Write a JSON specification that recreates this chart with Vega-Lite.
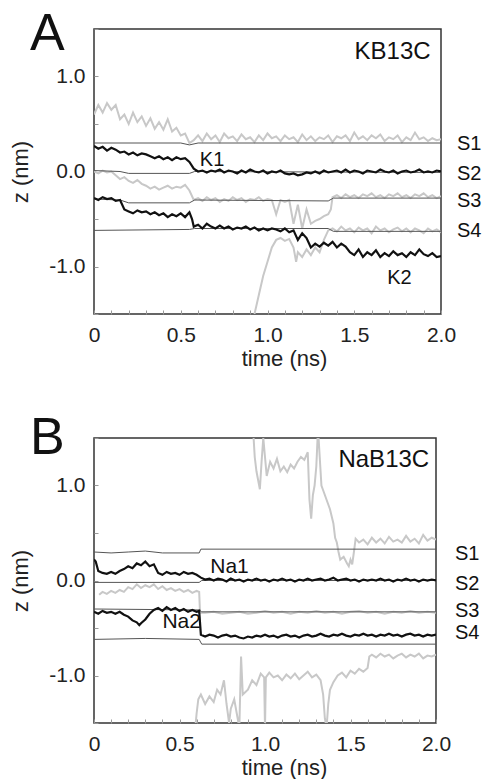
{
  "$schema": "https://vega.github.io/schema/vega-lite/v6.json",
  "padding": {"left": 9, "top": 7, "right": 5, "bottom": 0},
  "spacing": 41,
  "config": {
    "font": "Liberation Sans",
    "view": {"stroke": "#333", "strokeWidth": 1.5},
    "axis": {"labelFont": "Liberation Sans", "titleFont": "Liberation Sans", "labelFontSize": 21, "titleFontSize": 22, "titleFontWeight": "normal", "labelColor": "#222", "titleColor": "#222", "tickColor": "#999", "tickSize": -4, "domain": false, "grid": false, "labelOverlap": false, "labelFlush": false, "labelBound": false},
    "title": {"font": "Liberation Sans", "fontSize": 52, "fontWeight": "normal", "color": "#111", "anchor": "start", "frame": "group", "baseline": "alphabetic"}
  },
  "datasets": {
    "aK1": [{"t":0,"z":0.27},{"t":0.025,"z":0.24},{"t":0.05,"z":0.26},{"t":0.075,"z":0.22},{"t":0.1,"z":0.25},{"t":0.125,"z":0.23},{"t":0.15,"z":0.2},{"t":0.175,"z":0.21},{"t":0.2,"z":0.18},{"t":0.225,"z":0.2},{"t":0.25,"z":0.17},{"t":0.275,"z":0.19},{"t":0.3,"z":0.18},{"t":0.325,"z":0.16},{"t":0.35,"z":0.14},{"t":0.375,"z":0.16},{"t":0.4,"z":0.13},{"t":0.425,"z":0.15},{"t":0.45,"z":0.12},{"t":0.475,"z":0.15},{"t":0.5,"z":0.13},{"t":0.525,"z":0.14},{"t":0.55,"z":0.1},{"t":0.575,"z":0.03},{"t":0.6,"z":0.0},{"t":0.625,"z":0.01},{"t":0.65,"z":-0.01},{"t":0.675,"z":0.01},{"t":0.7,"z":0.0},{"t":0.725,"z":0.02},{"t":0.75,"z":-0.01},{"t":0.775,"z":0.01},{"t":0.8,"z":0.0},{"t":0.825,"z":-0.02},{"t":0.85,"z":0.01},{"t":0.875,"z":-0.01},{"t":0.9,"z":0.02},{"t":0.925,"z":0.0},{"t":0.95,"z":-0.01},{"t":0.975,"z":0.01},{"t":1.0,"z":-0.02},{"t":1.025,"z":0.0},{"t":1.05,"z":-0.01},{"t":1.075,"z":0.01},{"t":1.1,"z":-0.02},{"t":1.125,"z":-0.03},{"t":1.15,"z":-0.02},{"t":1.175,"z":-0.04},{"t":1.2,"z":-0.03},{"t":1.225,"z":-0.01},{"t":1.25,"z":-0.02},{"t":1.275,"z":0.0},{"t":1.3,"z":-0.02},{"t":1.325,"z":0.01},{"t":1.35,"z":-0.01},{"t":1.375,"z":0.0},{"t":1.4,"z":0.01},{"t":1.425,"z":-0.01},{"t":1.45,"z":0.02},{"t":1.475,"z":-0.01},{"t":1.5,"z":0.01},{"t":1.525,"z":0.0},{"t":1.55,"z":-0.02},{"t":1.575,"z":0.01},{"t":1.6,"z":0.0},{"t":1.625,"z":-0.01},{"t":1.65,"z":0.02},{"t":1.675,"z":0.0},{"t":1.7,"z":-0.01},{"t":1.725,"z":0.01},{"t":1.75,"z":-0.02},{"t":1.775,"z":0.0},{"t":1.8,"z":0.01},{"t":1.825,"z":-0.01},{"t":1.85,"z":0.0},{"t":1.875,"z":0.02},{"t":1.9,"z":-0.01},{"t":1.925,"z":0.0},{"t":1.95,"z":-0.01},{"t":1.975,"z":0.01},{"t":2.0,"z":0.0}],
    "aK2": [{"t":0,"z":-0.28},{"t":0.025,"z":-0.3},{"t":0.05,"z":-0.27},{"t":0.075,"z":-0.29},{"t":0.1,"z":-0.28},{"t":0.125,"z":-0.31},{"t":0.15,"z":-0.3},{"t":0.175,"z":-0.4},{"t":0.2,"z":-0.42},{"t":0.225,"z":-0.44},{"t":0.25,"z":-0.41},{"t":0.275,"z":-0.43},{"t":0.3,"z":-0.42},{"t":0.325,"z":-0.45},{"t":0.35,"z":-0.43},{"t":0.375,"z":-0.46},{"t":0.4,"z":-0.44},{"t":0.425,"z":-0.48},{"t":0.45,"z":-0.45},{"t":0.475,"z":-0.47},{"t":0.5,"z":-0.44},{"t":0.525,"z":-0.48},{"t":0.55,"z":-0.43},{"t":0.565,"z":-0.5},{"t":0.575,"z":-0.58},{"t":0.6,"z":-0.56},{"t":0.625,"z":-0.6},{"t":0.65,"z":-0.55},{"t":0.675,"z":-0.58},{"t":0.7,"z":-0.6},{"t":0.725,"z":-0.57},{"t":0.75,"z":-0.6},{"t":0.775,"z":-0.58},{"t":0.8,"z":-0.61},{"t":0.825,"z":-0.59},{"t":0.85,"z":-0.6},{"t":0.875,"z":-0.58},{"t":0.9,"z":-0.61},{"t":0.925,"z":-0.59},{"t":0.95,"z":-0.62},{"t":0.975,"z":-0.6},{"t":1.0,"z":-0.62},{"t":1.025,"z":-0.6},{"t":1.05,"z":-0.61},{"t":1.075,"z":-0.63},{"t":1.1,"z":-0.6},{"t":1.125,"z":-0.64},{"t":1.15,"z":-0.62},{"t":1.175,"z":-0.72},{"t":1.2,"z":-0.65},{"t":1.225,"z":-0.7},{"t":1.25,"z":-0.8},{"t":1.275,"z":-0.76},{"t":1.3,"z":-0.79},{"t":1.325,"z":-0.75},{"t":1.35,"z":-0.78},{"t":1.375,"z":-0.74},{"t":1.4,"z":-0.8},{"t":1.425,"z":-0.76},{"t":1.45,"z":-0.79},{"t":1.475,"z":-0.85},{"t":1.5,"z":-0.88},{"t":1.525,"z":-0.82},{"t":1.55,"z":-0.9},{"t":1.575,"z":-0.85},{"t":1.6,"z":-0.88},{"t":1.625,"z":-0.83},{"t":1.65,"z":-0.9},{"t":1.675,"z":-0.86},{"t":1.7,"z":-0.89},{"t":1.725,"z":-0.84},{"t":1.75,"z":-0.88},{"t":1.775,"z":-0.86},{"t":1.8,"z":-0.9},{"t":1.825,"z":-0.85},{"t":1.85,"z":-0.88},{"t":1.875,"z":-0.82},{"t":1.9,"z":-0.87},{"t":1.925,"z":-0.89},{"t":1.95,"z":-0.86},{"t":1.975,"z":-0.9},{"t":2.0,"z":-0.89}],
    "aG1": [{"t":0,"z":0.6},{"t":0.025,"z":0.7},{"t":0.05,"z":0.62},{"t":0.075,"z":0.72},{"t":0.1,"z":0.65},{"t":0.125,"z":0.7},{"t":0.15,"z":0.55},{"t":0.175,"z":0.6},{"t":0.2,"z":0.5},{"t":0.225,"z":0.62},{"t":0.25,"z":0.52},{"t":0.275,"z":0.58},{"t":0.3,"z":0.48},{"t":0.325,"z":0.56},{"t":0.35,"z":0.45},{"t":0.375,"z":0.52},{"t":0.4,"z":0.44},{"t":0.425,"z":0.55},{"t":0.45,"z":0.42},{"t":0.475,"z":0.46},{"t":0.5,"z":0.38},{"t":0.525,"z":0.4},{"t":0.55,"z":0.3},{"t":0.575,"z":0.33},{"t":0.6,"z":0.38},{"t":0.625,"z":0.32},{"t":0.65,"z":0.4},{"t":0.675,"z":0.34},{"t":0.7,"z":0.38},{"t":0.725,"z":0.31},{"t":0.75,"z":0.4},{"t":0.775,"z":0.35},{"t":0.8,"z":0.37},{"t":0.825,"z":0.32},{"t":0.85,"z":0.39},{"t":0.875,"z":0.34},{"t":0.9,"z":0.36},{"t":0.925,"z":0.31},{"t":0.95,"z":0.38},{"t":0.975,"z":0.33},{"t":1.0,"z":0.4},{"t":1.025,"z":0.35},{"t":1.05,"z":0.37},{"t":1.075,"z":0.32},{"t":1.1,"z":0.38},{"t":1.125,"z":0.34},{"t":1.15,"z":0.36},{"t":1.175,"z":0.31},{"t":1.2,"z":0.39},{"t":1.225,"z":0.33},{"t":1.25,"z":0.37},{"t":1.275,"z":0.32},{"t":1.3,"z":0.36},{"t":1.325,"z":0.34},{"t":1.35,"z":0.38},{"t":1.375,"z":0.31},{"t":1.4,"z":0.37},{"t":1.425,"z":0.35},{"t":1.45,"z":0.38},{"t":1.475,"z":0.32},{"t":1.5,"z":0.41},{"t":1.525,"z":0.34},{"t":1.55,"z":0.37},{"t":1.575,"z":0.33},{"t":1.6,"z":0.38},{"t":1.625,"z":0.35},{"t":1.65,"z":0.39},{"t":1.675,"z":0.32},{"t":1.7,"z":0.36},{"t":1.725,"z":0.34},{"t":1.75,"z":0.38},{"t":1.775,"z":0.31},{"t":1.8,"z":0.36},{"t":1.825,"z":0.33},{"t":1.85,"z":0.41},{"t":1.875,"z":0.34},{"t":1.9,"z":0.36},{"t":1.925,"z":0.32},{"t":1.95,"z":0.35},{"t":1.975,"z":0.33},{"t":2.0,"z":0.34}],
    "aG2": [{"t":0,"z":0.0},{"t":0.025,"z":-0.02},{"t":0.05,"z":0.01},{"t":0.075,"z":-0.01},{"t":0.1,"z":0.0},{"t":0.125,"z":-0.04},{"t":0.15,"z":-0.08},{"t":0.175,"z":-0.06},{"t":0.2,"z":-0.1},{"t":0.225,"z":-0.12},{"t":0.25,"z":-0.09},{"t":0.275,"z":-0.13},{"t":0.3,"z":-0.15},{"t":0.325,"z":-0.18},{"t":0.35,"z":-0.16},{"t":0.375,"z":-0.19},{"t":0.4,"z":-0.17},{"t":0.425,"z":-0.15},{"t":0.45,"z":-0.18},{"t":0.475,"z":-0.16},{"t":0.5,"z":-0.17},{"t":0.525,"z":-0.14},{"t":0.55,"z":-0.2},{"t":0.575,"z":-0.3},{"t":0.6,"z":-0.28},{"t":0.625,"z":-0.31},{"t":0.65,"z":-0.27},{"t":0.675,"z":-0.3},{"t":0.7,"z":-0.28},{"t":0.725,"z":-0.32},{"t":0.75,"z":-0.29},{"t":0.775,"z":-0.31},{"t":0.8,"z":-0.27},{"t":0.825,"z":-0.3},{"t":0.85,"z":-0.28},{"t":0.875,"z":-0.32},{"t":0.9,"z":-0.29},{"t":0.925,"z":-0.3},{"t":0.95,"z":-0.27},{"t":0.975,"z":-0.31},{"t":1.0,"z":-0.29},{"t":1.025,"z":-0.3},{"t":1.05,"z":-0.45},{"t":1.075,"z":-0.3},{"t":1.1,"z":-0.32},{"t":1.125,"z":-0.3},{"t":1.15,"z":-0.55},{"t":1.175,"z":-0.35},{"t":1.2,"z":-0.6},{"t":1.225,"z":-0.4},{"t":1.25,"z":-0.55},{"t":1.275,"z":-0.52},{"t":1.3,"z":-0.5},{"t":1.325,"z":-0.47},{"t":1.35,"z":-0.45},{"t":1.365,"z":-0.4},{"t":1.375,"z":-0.27},{"t":1.4,"z":-0.25},{"t":1.425,"z":-0.28},{"t":1.45,"z":-0.24},{"t":1.475,"z":-0.27},{"t":1.5,"z":-0.25},{"t":1.525,"z":-0.28},{"t":1.55,"z":-0.24},{"t":1.575,"z":-0.26},{"t":1.6,"z":-0.23},{"t":1.625,"z":-0.27},{"t":1.65,"z":-0.25},{"t":1.675,"z":-0.28},{"t":1.7,"z":-0.24},{"t":1.725,"z":-0.26},{"t":1.75,"z":-0.23},{"t":1.775,"z":-0.27},{"t":1.8,"z":-0.25},{"t":1.825,"z":-0.28},{"t":1.85,"z":-0.24},{"t":1.875,"z":-0.26},{"t":1.9,"z":-0.23},{"t":1.925,"z":-0.27},{"t":1.95,"z":-0.25},{"t":1.975,"z":-0.28},{"t":2.0,"z":-0.26}],
    "aG3": [{"t":0.91,"z":-1.6},{"t":0.925,"z":-1.5},{"t":0.95,"z":-1.3},{"t":0.975,"z":-1.1},{"t":1.0,"z":-0.95},{"t":1.025,"z":-0.8},{"t":1.05,"z":-0.72},{"t":1.075,"z":-0.7},{"t":1.1,"z":-0.73},{"t":1.125,"z":-0.71},{"t":1.15,"z":-0.8},{"t":1.165,"z":-0.95},{"t":1.175,"z":-0.85},{"t":1.2,"z":-0.9},{"t":1.225,"z":-0.82},{"t":1.25,"z":-0.88},{"t":1.275,"z":-0.8},{"t":1.3,"z":-0.85},{"t":1.325,"z":-0.72},{"t":1.35,"z":-0.62},{"t":1.375,"z":-0.6},{"t":1.4,"z":-0.63},{"t":1.425,"z":-0.58},{"t":1.45,"z":-0.62},{"t":1.475,"z":-0.6},{"t":1.5,"z":-0.64},{"t":1.525,"z":-0.59},{"t":1.55,"z":-0.62},{"t":1.575,"z":-0.6},{"t":1.6,"z":-0.65},{"t":1.625,"z":-0.58},{"t":1.65,"z":-0.62},{"t":1.675,"z":-0.6},{"t":1.7,"z":-0.64},{"t":1.725,"z":-0.61},{"t":1.75,"z":-0.59},{"t":1.775,"z":-0.63},{"t":1.8,"z":-0.6},{"t":1.825,"z":-0.64},{"t":1.85,"z":-0.6},{"t":1.875,"z":-0.62},{"t":1.9,"z":-0.65},{"t":1.925,"z":-0.6},{"t":1.95,"z":-0.63},{"t":1.975,"z":-0.61},{"t":2.0,"z":-0.64}],
    "aS1": [{"t":0,"z":0.3},{"t":0.5,"z":0.3},{"t":0.55,"z":0.28},{"t":0.6,"z":0.3},{"t":2.0,"z":0.3}],
    "aS2": [{"t":0,"z":0.01},{"t":0.15,"z":0.0},{"t":0.2,"z":-0.02},{"t":0.55,"z":-0.02},{"t":0.58,"z":0.0},{"t":2.0,"z":-0.01}],
    "aS3": [{"t":0,"z":-0.29},{"t":0.15,"z":-0.3},{"t":0.2,"z":-0.33},{"t":0.55,"z":-0.33},{"t":0.58,"z":-0.3},{"t":1.35,"z":-0.31},{"t":1.38,"z":-0.28},{"t":2.0,"z":-0.28}],
    "aS4": [{"t":0,"z":-0.62},{"t":0.55,"z":-0.61},{"t":0.58,"z":-0.6},{"t":1.35,"z":-0.6},{"t":1.38,"z":-0.63},{"t":2.0,"z":-0.63}],
    "aName": [{"t":1.94,"z":1.18,"label":"KB13C"}],
    "aIon": [{"t":0.61,"z":0.06,"label":"K1"},{"t":1.69,"z":-1.18,"label":"K2"}],
    "aSite": [{"t":2.0,"z":0.285,"label":"S1"},{"t":2.0,"z":-0.025,"label":"S2"},{"t":2.0,"z":-0.31,"label":"S3"},{"t":2.0,"z":-0.63,"label":"S4"}],
    "bNa1": [{"t":0,"z":0.22},{"t":0.01,"z":0.2},{"t":0.025,"z":0.1},{"t":0.05,"z":0.08},{"t":0.075,"z":0.07},{"t":0.1,"z":0.09},{"t":0.125,"z":0.07},{"t":0.15,"z":0.1},{"t":0.175,"z":0.12},{"t":0.2,"z":0.15},{"t":0.225,"z":0.13},{"t":0.25,"z":0.18},{"t":0.275,"z":0.16},{"t":0.3,"z":0.2},{"t":0.325,"z":0.15},{"t":0.35,"z":0.17},{"t":0.375,"z":0.08},{"t":0.4,"z":0.06},{"t":0.425,"z":0.09},{"t":0.45,"z":0.07},{"t":0.475,"z":0.08},{"t":0.5,"z":0.06},{"t":0.525,"z":0.09},{"t":0.55,"z":0.07},{"t":0.575,"z":0.08},{"t":0.6,"z":0.06},{"t":0.625,"z":0.03},{"t":0.65,"z":0.01},{"t":0.675,"z":0.02},{"t":0.7,"z":0.0},{"t":0.725,"z":0.02},{"t":0.75,"z":0.01},{"t":0.775,"z":-0.01},{"t":0.8,"z":0.02},{"t":0.825,"z":0.0},{"t":0.85,"z":0.01},{"t":0.875,"z":-0.01},{"t":0.9,"z":0.01},{"t":0.925,"z":0.0},{"t":0.95,"z":0.02},{"t":0.975,"z":0.0},{"t":1.0,"z":0.01},{"t":1.025,"z":-0.01},{"t":1.05,"z":0.01},{"t":1.075,"z":0.0},{"t":1.1,"z":0.02},{"t":1.125,"z":0.0},{"t":1.15,"z":0.01},{"t":1.175,"z":-0.01},{"t":1.2,"z":0.01},{"t":1.225,"z":0.0},{"t":1.25,"z":0.02},{"t":1.275,"z":0.0},{"t":1.3,"z":0.01},{"t":1.325,"z":0.02},{"t":1.35,"z":0.0},{"t":1.375,"z":0.01},{"t":1.4,"z":0.03},{"t":1.425,"z":0.0},{"t":1.45,"z":0.01},{"t":1.475,"z":0.02},{"t":1.5,"z":0.0},{"t":1.525,"z":0.01},{"t":1.55,"z":-0.01},{"t":1.575,"z":0.01},{"t":1.6,"z":0.0},{"t":1.625,"z":0.01},{"t":1.65,"z":0.0},{"t":1.675,"z":0.02},{"t":1.7,"z":0.0},{"t":1.725,"z":0.01},{"t":1.75,"z":-0.01},{"t":1.775,"z":0.01},{"t":1.8,"z":0.0},{"t":1.825,"z":0.02},{"t":1.85,"z":0.0},{"t":1.875,"z":0.01},{"t":1.9,"z":-0.01},{"t":1.925,"z":0.01},{"t":1.95,"z":0.0},{"t":1.975,"z":0.01},{"t":2.0,"z":0.0}],
    "bNa2": [{"t":0,"z":-0.33},{"t":0.025,"z":-0.35},{"t":0.05,"z":-0.32},{"t":0.075,"z":-0.34},{"t":0.1,"z":-0.33},{"t":0.125,"z":-0.35},{"t":0.15,"z":-0.33},{"t":0.175,"z":-0.36},{"t":0.2,"z":-0.38},{"t":0.225,"z":-0.42},{"t":0.25,"z":-0.44},{"t":0.265,"z":-0.47},{"t":0.275,"z":-0.45},{"t":0.3,"z":-0.41},{"t":0.325,"z":-0.35},{"t":0.35,"z":-0.31},{"t":0.375,"z":-0.29},{"t":0.4,"z":-0.32},{"t":0.425,"z":-0.28},{"t":0.45,"z":-0.31},{"t":0.475,"z":-0.29},{"t":0.5,"z":-0.32},{"t":0.525,"z":-0.3},{"t":0.55,"z":-0.33},{"t":0.575,"z":-0.31},{"t":0.6,"z":-0.33},{"t":0.615,"z":-0.32},{"t":0.625,"z":-0.57},{"t":0.65,"z":-0.59},{"t":0.675,"z":-0.57},{"t":0.7,"z":-0.58},{"t":0.725,"z":-0.6},{"t":0.75,"z":-0.58},{"t":0.775,"z":-0.57},{"t":0.8,"z":-0.59},{"t":0.825,"z":-0.58},{"t":0.85,"z":-0.6},{"t":0.875,"z":-0.61},{"t":0.9,"z":-0.59},{"t":0.925,"z":-0.6},{"t":0.95,"z":-0.58},{"t":0.975,"z":-0.59},{"t":1.0,"z":-0.57},{"t":1.025,"z":-0.59},{"t":1.05,"z":-0.58},{"t":1.075,"z":-0.6},{"t":1.1,"z":-0.58},{"t":1.125,"z":-0.57},{"t":1.15,"z":-0.59},{"t":1.175,"z":-0.58},{"t":1.2,"z":-0.6},{"t":1.225,"z":-0.58},{"t":1.25,"z":-0.57},{"t":1.275,"z":-0.59},{"t":1.3,"z":-0.58},{"t":1.325,"z":-0.56},{"t":1.35,"z":-0.58},{"t":1.375,"z":-0.59},{"t":1.4,"z":-0.57},{"t":1.425,"z":-0.58},{"t":1.45,"z":-0.56},{"t":1.475,"z":-0.58},{"t":1.5,"z":-0.59},{"t":1.525,"z":-0.57},{"t":1.55,"z":-0.58},{"t":1.575,"z":-0.56},{"t":1.6,"z":-0.58},{"t":1.625,"z":-0.57},{"t":1.65,"z":-0.59},{"t":1.675,"z":-0.57},{"t":1.7,"z":-0.58},{"t":1.725,"z":-0.56},{"t":1.75,"z":-0.58},{"t":1.775,"z":-0.57},{"t":1.8,"z":-0.59},{"t":1.825,"z":-0.57},{"t":1.85,"z":-0.56},{"t":1.875,"z":-0.58},{"t":1.9,"z":-0.57},{"t":1.925,"z":-0.59},{"t":1.95,"z":-0.57},{"t":1.975,"z":-0.58},{"t":2.0,"z":-0.57}],
    "bGa": [{"t":0.03,"z":-0.15},{"t":0.05,"z":-0.12},{"t":0.075,"z":-0.14},{"t":0.1,"z":-0.11},{"t":0.125,"z":-0.13},{"t":0.15,"z":-0.1},{"t":0.175,"z":-0.12},{"t":0.2,"z":-0.07},{"t":0.225,"z":-0.09},{"t":0.25,"z":-0.04},{"t":0.275,"z":-0.08},{"t":0.3,"z":-0.05},{"t":0.325,"z":-0.07},{"t":0.35,"z":-0.04},{"t":0.375,"z":-0.09},{"t":0.4,"z":-0.06},{"t":0.425,"z":-0.1},{"t":0.45,"z":-0.08},{"t":0.475,"z":-0.11},{"t":0.5,"z":-0.09},{"t":0.525,"z":-0.12},{"t":0.55,"z":-0.1},{"t":0.575,"z":-0.13},{"t":0.6,"z":-0.11},{"t":0.615,"z":-0.12},{"t":0.62,"z":-0.34},{"t":0.65,"z":-0.34},{"t":0.7,"z":-0.33},{"t":0.75,"z":-0.35},{"t":0.8,"z":-0.34},{"t":0.85,"z":-0.33},{"t":0.9,"z":-0.35},{"t":0.95,"z":-0.34},{"t":1.0,"z":-0.32},{"t":1.05,"z":-0.34},{"t":1.1,"z":-0.33},{"t":1.15,"z":-0.35},{"t":1.2,"z":-0.33},{"t":1.25,"z":-0.34},{"t":1.3,"z":-0.32},{"t":1.35,"z":-0.34},{"t":1.4,"z":-0.33},{"t":1.45,"z":-0.35},{"t":1.5,"z":-0.33},{"t":1.55,"z":-0.32},{"t":1.6,"z":-0.34},{"t":1.65,"z":-0.33},{"t":1.7,"z":-0.35},{"t":1.75,"z":-0.33},{"t":1.8,"z":-0.34},{"t":1.85,"z":-0.32},{"t":1.9,"z":-0.34},{"t":1.95,"z":-0.33},{"t":2.0,"z":-0.34}],
    "bGb": [{"t":0.93,"z":1.6},{"t":0.94,"z":1.3},{"t":0.95,"z":1.15},{"t":0.97,"z":0.96},{"t":0.98,"z":1.25},{"t":0.99,"z":1.5},{"t":1.0,"z":1.3},{"t":1.01,"z":1.1},{"t":1.03,"z":1.25},{"t":1.05,"z":1.18},{"t":1.07,"z":1.28},{"t":1.09,"z":1.15},{"t":1.11,"z":1.2},{"t":1.13,"z":1.14},{"t":1.15,"z":1.22},{"t":1.17,"z":1.18},{"t":1.19,"z":1.25},{"t":1.21,"z":1.3},{"t":1.23,"z":1.27},{"t":1.25,"z":1.35},{"t":1.26,"z":0.85},{"t":1.27,"z":0.65},{"t":1.28,"z":0.9},{"t":1.29,"z":1.0},{"t":1.3,"z":1.2},{"t":1.31,"z":1.6},{"t":1.32,"z":1.3},{"t":1.33,"z":1.0},{"t":1.34,"z":0.95},{"t":1.36,"z":0.85},{"t":1.38,"z":0.75},{"t":1.4,"z":0.6},{"t":1.41,"z":0.45},{"t":1.42,"z":0.4},{"t":1.43,"z":0.3},{"t":1.44,"z":0.22},{"t":1.46,"z":0.25},{"t":1.48,"z":0.18},{"t":1.49,"z":0.15},{"t":1.5,"z":0.22},{"t":1.51,"z":0.17},{"t":1.52,"z":0.3},{"t":1.53,"z":0.44},{"t":1.55,"z":0.4},{"t":1.575,"z":0.43},{"t":1.6,"z":0.38},{"t":1.625,"z":0.45},{"t":1.65,"z":0.4},{"t":1.675,"z":0.44},{"t":1.7,"z":0.39},{"t":1.725,"z":0.46},{"t":1.75,"z":0.41},{"t":1.775,"z":0.43},{"t":1.8,"z":0.4},{"t":1.825,"z":0.47},{"t":1.85,"z":0.41},{"t":1.875,"z":0.44},{"t":1.9,"z":0.39},{"t":1.925,"z":0.48},{"t":1.95,"z":0.42},{"t":1.975,"z":0.45},{"t":2.0,"z":0.43}],
    "bGc": [{"t":0.59,"z":-1.6},{"t":0.6,"z":-1.4},{"t":0.61,"z":-1.25},{"t":0.625,"z":-1.2},{"t":0.65,"z":-1.3},{"t":0.675,"z":-1.22},{"t":0.7,"z":-1.28},{"t":0.72,"z":-1.15},{"t":0.74,"z":-1.2},{"t":0.76,"z":-1.05},{"t":0.775,"z":-1.3},{"t":0.79,"z":-1.5},{"t":0.8,"z":-1.35},{"t":0.82,"z":-1.25},{"t":0.84,"z":-1.45},{"t":0.85,"z":-1.55},{"t":0.86,"z":-0.8},{"t":0.87,"z":-1.2},{"t":0.9,"z":-1.15},{"t":0.925,"z":-1.05},{"t":0.95,"z":-1.1},{"t":0.975,"z":-0.98},{"t":0.995,"z":-1.02},{"t":1.0,"z":-1.55},{"t":1.005,"z":-1.02},{"t":1.025,"z":-0.97},{"t":1.05,"z":-1.02},{"t":1.075,"z":-1.0},{"t":1.1,"z":-1.05},{"t":1.125,"z":-0.99},{"t":1.15,"z":-1.03},{"t":1.175,"z":-0.98},{"t":1.2,"z":-1.04},{"t":1.225,"z":-1.0},{"t":1.25,"z":-0.96},{"t":1.275,"z":-1.02},{"t":1.3,"z":-0.99},{"t":1.325,"z":-1.05},{"t":1.34,"z":-1.2},{"t":1.35,"z":-1.45},{"t":1.36,"z":-1.55},{"t":1.37,"z":-1.3},{"t":1.38,"z":-1.15},{"t":1.4,"z":-1.07},{"t":1.425,"z":-1.0},{"t":1.45,"z":-0.97},{"t":1.475,"z":-1.02},{"t":1.5,"z":-0.95},{"t":1.525,"z":-0.98},{"t":1.55,"z":-0.93},{"t":1.575,"z":-0.96},{"t":1.6,"z":-0.92},{"t":1.61,"z":-0.8},{"t":1.625,"z":-0.78},{"t":1.65,"z":-0.81},{"t":1.675,"z":-0.77},{"t":1.7,"z":-0.8},{"t":1.725,"z":-0.78},{"t":1.75,"z":-0.82},{"t":1.775,"z":-0.79},{"t":1.8,"z":-0.77},{"t":1.825,"z":-0.81},{"t":1.85,"z":-0.78},{"t":1.875,"z":-0.8},{"t":1.9,"z":-0.77},{"t":1.925,"z":-0.82},{"t":1.95,"z":-0.79},{"t":1.975,"z":-0.8},{"t":2.0,"z":-0.78}],
    "bS1": [{"t":0,"z":0.3},{"t":0.1,"z":0.29},{"t":0.2,"z":0.3},{"t":0.3,"z":0.31},{"t":0.4,"z":0.29},{"t":0.615,"z":0.29},{"t":0.625,"z":0.33},{"t":2.0,"z":0.33}],
    "bS2": [{"t":0,"z":-0.02},{"t":0.615,"z":-0.02},{"t":0.63,"z":0.0},{"t":2.0,"z":0.0}],
    "bS3": [{"t":0,"z":-0.3},{"t":0.615,"z":-0.31},{"t":0.63,"z":-0.33},{"t":2.0,"z":-0.33}],
    "bS4": [{"t":0,"z":-0.62},{"t":0.3,"z":-0.61},{"t":0.615,"z":-0.62},{"t":0.63,"z":-0.67},{"t":2.0,"z":-0.67}],
    "bName": [{"t":1.96,"z":1.2,"label":"NaB13C"}],
    "bIon": [{"t":0.68,"z":0.084,"label":"Na1"},{"t":0.4,"z":-0.5,"label":"Na2"}],
    "bSite": [{"t":2.0,"z":0.277,"label":"S1"},{"t":2.0,"z":-0.04,"label":"S2"},{"t":2.0,"z":-0.32,"label":"S3"},{"t":2.0,"z":-0.55,"label":"S4"}]
  },
  "vconcat": [
    {
      "width": 347,
      "height": 285,
      "title": {"text": "A", "dx": -64, "offset": -43},
      "encoding": {
        "x": {"field": "t", "type": "quantitative", "scale": {"domain": [0, 2], "nice": false, "zero": false},
          "axis": {"title": "time (ns)", "values": [0,0.1,0.2,0.3,0.4,0.5,0.6,0.7,0.8,0.9,1,1.1,1.2,1.3,1.4,1.5,1.6,1.7,1.8,1.9,2], "labelExpr": "datum.value==0 ? '0' : datum.value==0.5 ? '0.5' : datum.value==1 ? '1.0' : datum.value==1.5 ? '1.5' : datum.value==2 ? '2.0' : ''", "labelPadding": 14, "titlePadding": 3, "titleX": 190}},
        "y": {"field": "z", "type": "quantitative", "scale": {"domain": [-1.5, 1.5], "nice": false, "zero": false},
          "axis": {"title": "z (nm)", "values": [-1.5,-1,-0.5,0,0.5,1,1.5], "labelExpr": "datum.value==1 ? '1.0' : datum.value==0 ? '0.0' : datum.value==-1 ? '-1.0' : ''", "labelPadding": 13, "titlePadding": 16}}
      },
      "layer": [
        {"data": {"name": "aG1"}, "mark": {"type": "line", "color": "#c8c8c8", "strokeWidth": 2, "clip": true}},
        {"data": {"name": "aG2"}, "mark": {"type": "line", "color": "#c8c8c8", "strokeWidth": 2, "clip": true}},
        {"data": {"name": "aG3"}, "mark": {"type": "line", "color": "#c8c8c8", "strokeWidth": 2, "clip": true}},
        {"data": {"name": "aS1"}, "mark": {"type": "line", "color": "#555", "strokeWidth": 1, "clip": true}},
        {"data": {"name": "aS2"}, "mark": {"type": "line", "color": "#555", "strokeWidth": 1, "clip": true}},
        {"data": {"name": "aS3"}, "mark": {"type": "line", "color": "#555", "strokeWidth": 1, "clip": true}},
        {"data": {"name": "aS4"}, "mark": {"type": "line", "color": "#555", "strokeWidth": 1, "clip": true}},
        {"data": {"name": "aK1"}, "mark": {"type": "line", "color": "#111", "strokeWidth": 2.2, "clip": true}},
        {"data": {"name": "aK2"}, "mark": {"type": "line", "color": "#111", "strokeWidth": 2.2, "clip": true}},
        {"data": {"name": "aName"}, "mark": {"type": "text", "align": "right", "baseline": "alphabetic", "fontSize": 24, "color": "#111"}, "encoding": {"text": {"field": "label"}}},
        {"data": {"name": "aIon"}, "mark": {"type": "text", "align": "left", "baseline": "alphabetic", "fontSize": 20, "color": "#111"}, "encoding": {"text": {"field": "label"}}},
        {"data": {"name": "aSite"}, "mark": {"type": "text", "align": "left", "baseline": "middle", "fontSize": 20, "dx": 16, "color": "#111"}, "encoding": {"text": {"field": "label"}}}
      ]
    },
    {
      "width": 342,
      "height": 285,
      "title": {"text": "B", "dx": -64, "offset": -38},
      "encoding": {
        "x": {"field": "t", "type": "quantitative", "scale": {"domain": [0, 2], "nice": false, "zero": false},
          "axis": {"title": "time (ns)", "values": [0,0.1,0.2,0.3,0.4,0.5,0.6,0.7,0.8,0.9,1,1.1,1.2,1.3,1.4,1.5,1.6,1.7,1.8,1.9,2], "labelExpr": "datum.value==0 ? '0' : datum.value==0.5 ? '0.5' : datum.value==1 ? '1.0' : datum.value==1.5 ? '1.5' : datum.value==2 ? '2.0' : ''", "labelPadding": 14, "titlePadding": 3, "titleX": 190}},
        "y": {"field": "z", "type": "quantitative", "scale": {"domain": [-1.5, 1.5], "nice": false, "zero": false},
          "axis": {"title": "z (nm)", "values": [-1.5,-1,-0.5,0,0.5,1,1.5], "labelExpr": "datum.value==1 ? '1.0' : datum.value==0 ? '0.0' : datum.value==-1 ? '-1.0' : ''", "labelPadding": 13, "titlePadding": 16}}
      },
      "layer": [
        {"data": {"name": "bGa"}, "mark": {"type": "line", "color": "#c8c8c8", "strokeWidth": 2, "clip": true}},
        {"data": {"name": "bGb"}, "mark": {"type": "line", "color": "#c8c8c8", "strokeWidth": 2, "clip": true}},
        {"data": {"name": "bGc"}, "mark": {"type": "line", "color": "#c8c8c8", "strokeWidth": 2, "clip": true}},
        {"data": {"name": "bS1"}, "mark": {"type": "line", "color": "#555", "strokeWidth": 1, "clip": true}},
        {"data": {"name": "bS2"}, "mark": {"type": "line", "color": "#555", "strokeWidth": 1, "clip": true}},
        {"data": {"name": "bS3"}, "mark": {"type": "line", "color": "#555", "strokeWidth": 1, "clip": true}},
        {"data": {"name": "bS4"}, "mark": {"type": "line", "color": "#555", "strokeWidth": 1, "clip": true}},
        {"data": {"name": "bNa1"}, "mark": {"type": "line", "color": "#111", "strokeWidth": 2.2, "clip": true}},
        {"data": {"name": "bNa2"}, "mark": {"type": "line", "color": "#111", "strokeWidth": 2.2, "clip": true}},
        {"data": {"name": "bName"}, "mark": {"type": "text", "align": "right", "baseline": "alphabetic", "fontSize": 24, "color": "#111"}, "encoding": {"text": {"field": "label"}}},
        {"data": {"name": "bIon"}, "mark": {"type": "text", "align": "left", "baseline": "alphabetic", "fontSize": 21, "color": "#111"}, "encoding": {"text": {"field": "label"}}},
        {"data": {"name": "bSite"}, "mark": {"type": "text", "align": "left", "baseline": "middle", "fontSize": 20, "dx": 19, "color": "#111"}, "encoding": {"text": {"field": "label"}}}
      ]
    }
  ]
}
